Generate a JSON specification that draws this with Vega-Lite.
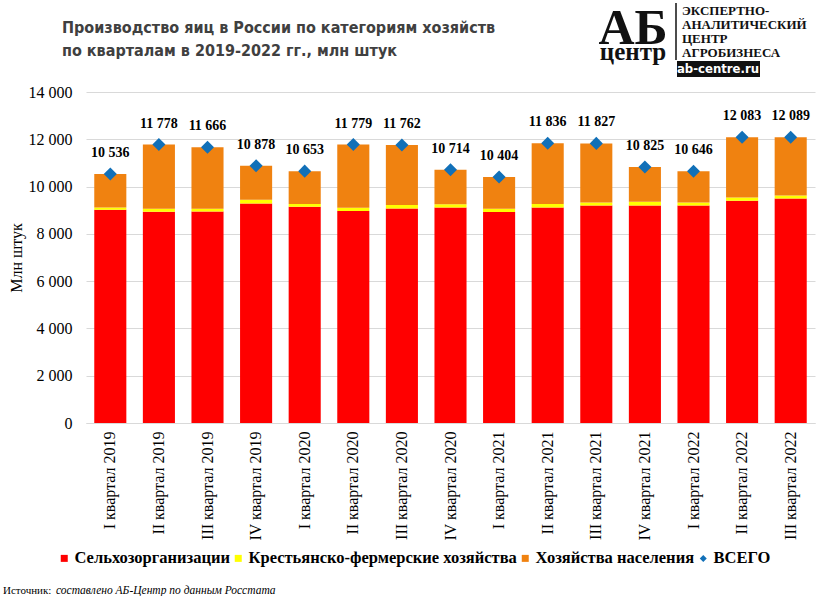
{
  "$schema": "https://vega.github.io/schema/vega-lite/v6.json",
  "width": 729,
  "height": 331,
  "autosize": {"type": "none"},
  "padding": {"left": 86, "top": 92, "right": 4, "bottom": 173},
  "background": "white",
  "config": {
    "locale": {"number": {"decimal": ",", "thousands": " ", "grouping": [3], "currency": ["", ""]}},
    "view": {"stroke": null},
    "font": "Liberation Serif"
  },
  "title": {
    "text": ["Производство  яиц в России по категориям хозяйств", "по кварталам  в 2019-2022 гг., млн штук"],
    "anchor": "start",
    "frame": "group",
    "font": "Liberation Sans Narrow, DejaVu Sans Condensed, sans-serif",
    "fontSize": 16,
    "fontWeight": "bold",
    "color": "#404040",
    "lineHeight": 23,
    "dx": -24,
    "offset": -57
  },
  "datasets": {
    "eggs": [
      {"q": "I квартал 2019", "Сельхозорганизации": 9019, "Крестьянско-фермерские хозяйства": 95, "Хозяйства населения": 1422, "ВСЕГО": 10536},
      {"q": "II квартал 2019", "Сельхозорганизации": 8935, "Крестьянско-фермерские хозяйства": 126, "Хозяйства населения": 2717, "ВСЕГО": 11778},
      {"q": "III квартал 2019", "Сельхозорганизации": 8947, "Крестьянско-фермерские хозяйства": 114, "Хозяйства населения": 2605, "ВСЕГО": 11666},
      {"q": "IV квартал 2019", "Сельхозорганизации": 9285, "Крестьянско-фермерские хозяйства": 157, "Хозяйства населения": 1436, "ВСЕГО": 10878},
      {"q": "I квартал 2020", "Сельхозорганизации": 9146, "Крестьянско-фермерские хозяйства": 114, "Хозяйства населения": 1393, "ВСЕГО": 10653},
      {"q": "II квартал 2020", "Сельхозорганизации": 8964, "Крестьянско-фермерские хозяйства": 140, "Хозяйства населения": 2675, "ВСЕГО": 11779},
      {"q": "III квартал 2020", "Сельхозорганизации": 9074, "Крестьянско-фермерские хозяйства": 144, "Хозяйства населения": 2544, "ВСЕГО": 11762},
      {"q": "IV квартал 2020", "Сельхозорганизации": 9116, "Крестьянско-фермерские хозяйства": 136, "Хозяйства населения": 1462, "ВСЕГО": 10714},
      {"q": "I квартал 2021", "Сельхозорганизации": 8922, "Крестьянско-фермерские хозяйства": 139, "Хозяйства населения": 1343, "ВСЕГО": 10404},
      {"q": "II квартал 2021", "Сельхозорганизации": 9116, "Крестьянско-фермерские хозяйства": 144, "Хозяйства населения": 2576, "ВСЕГО": 11836},
      {"q": "III квартал 2021", "Сельхозорганизации": 9201, "Крестьянско-фермерские хозяйства": 127, "Хозяйства населения": 2499, "ВСЕГО": 11827},
      {"q": "IV квартал 2021", "Сельхозорганизации": 9201, "Крестьянско-фермерские хозяйства": 156, "Хозяйства населения": 1468, "ВСЕГО": 10825},
      {"q": "I квартал 2022", "Сельхозорганизации": 9201, "Крестьянско-фермерские хозяйства": 127, "Хозяйства населения": 1318, "ВСЕГО": 10646},
      {"q": "II квартал 2022", "Сельхозорганизации": 9400, "Крестьянско-фермерские хозяйства": 139, "Хозяйства населения": 2544, "ВСЕГО": 12083},
      {"q": "III квартал 2022", "Сельхозорганизации": 9497, "Крестьянско-фермерские хозяйства": 127, "Хозяйства населения": 2465, "ВСЕГО": 12089}
    ]
  },
  "layer": [
    {
      "data": {"name": "eggs"},
      "transform": [
        {"fold": ["Сельхозорганизации", "Крестьянско-фермерские хозяйства", "Хозяйства населения"], "as": ["cat", "val"]},
        {"calculate": "indexof(['Сельхозорганизации', 'Крестьянско-фермерские хозяйства', 'Хозяйства населения'], datum.cat)", "as": "ord"}
      ],
      "mark": {"type": "bar"},
      "encoding": {
        "x": {
          "field": "q", "type": "nominal", "sort": null,
          "scale": {"paddingInner": 0.34, "paddingOuter": 0.17},
          "axis": {"title": null, "labelAngle": -90, "labelFont": "Liberation Serif", "labelFontSize": 16, "labelColor": "#000000", "domainColor": "#d9d9d9", "ticks": false, "labelPadding": 8}
        },
        "y": {
          "field": "val", "type": "quantitative", "stack": "zero",
          "scale": {"domain": [0, 14000], "nice": false},
          "axis": {"title": "Млн штук", "titleFont": "Liberation Serif", "titleFontSize": 16, "titleFontWeight": "normal", "titleColor": "#000000", "titleX": -62, "labelFont": "Liberation Serif", "labelFontSize": 16, "labelColor": "#000000", "domain": false, "ticks": false, "gridColor": "#d9d9d9", "labelPadding": 14, "values": [0, 2000, 4000, 6000, 8000, 10000, 12000, 14000], "format": ",d"}
        },
        "color": {
          "field": "cat", "type": "nominal",
          "scale": {"domain": ["Сельхозорганизации", "Крестьянско-фермерские хозяйства", "Хозяйства населения", "ВСЕГО"], "range": ["#FF0000", "#FFFF00", "#F08210", "#1170B8"]},
          "legend": {
            "orient": "none", "direction": "horizontal", "legendX": -30, "legendY": 458,
            "title": null, "labelFont": "Liberation Serif", "labelFontSize": 16.5, "labelFontWeight": "bold", "labelColor": "#000000", "labelLimit": 0,
            "symbolSize": 49, "symbolType": "square", "symbolStrokeWidth": 0, "columnPadding": -2, "labelOffset": 2,
            "encode": {"symbols": {"update": {"shape": {"signal": "datum.value === 'ВСЕГО' ? 'diamond' : 'square'"}}}}
          }
        },
        "order": {"field": "ord", "type": "quantitative", "sort": "ascending"}
      }
    },
    {
      "data": {"name": "eggs"},
      "mark": {"type": "point", "shape": "diamond", "filled": true, "size": 170, "opacity": 1},
      "encoding": {
        "x": {"field": "q", "type": "nominal", "sort": null},
        "y": {"field": "ВСЕГО", "type": "quantitative"},
        "color": {"datum": "ВСЕГО"}
      }
    },
    {
      "data": {"name": "eggs"},
      "mark": {"type": "text", "dy": -21, "font": "Liberation Serif", "fontSize": 14, "fontWeight": "bold", "color": "#000000"},
      "encoding": {
        "x": {"field": "q", "type": "nominal", "sort": null},
        "y": {"field": "ВСЕГО", "type": "quantitative"},
        "text": {"field": "ВСЕГО", "type": "quantitative", "format": ",d"}
      }
    },
    {
      "data": {"values": [{}]},
      "mark": {"type": "text", "text": "АБ", "font": "Liberation Serif", "fontSize": 50, "fontWeight": "bold", "color": "#111111", "align": "center", "baseline": "alphabetic"},
      "encoding": {"x": {"value": 547}, "y": {"value": -48}}
    },
    {
      "data": {"values": [{}]},
      "mark": {"type": "text", "text": "центр", "font": "Liberation Serif", "fontSize": 25, "fontWeight": "bold", "color": "#111111", "align": "center", "baseline": "alphabetic"},
      "encoding": {"x": {"value": 547}, "y": {"value": -32}}
    },
    {
      "data": {"values": [{}]},
      "mark": {"type": "rule", "color": "#111111", "strokeWidth": 1.5},
      "encoding": {"x": {"value": 590}, "y": {"value": -89}, "y2": {"value": -32}}
    },
    {
      "data": {"values": [{}]},
      "mark": {"type": "text", "text": ["ЭКСПЕРТНО-", "АНАЛИТИЧЕСКИЙ", "ЦЕНТР", "АГРОБИЗНЕСА"], "font": "Liberation Serif", "fontSize": 13, "fontWeight": "bold", "color": "#111111", "align": "left", "baseline": "top", "lineHeight": 14},
      "encoding": {"x": {"value": 596}, "y": {"value": -87}}
    },
    {
      "data": {"values": [{}]},
      "mark": {"type": "rect", "color": "#111111"},
      "encoding": {"x": {"value": 591}, "x2": {"value": 674}, "y": {"value": -31}, "y2": {"value": -15}}
    },
    {
      "data": {"values": [{}]},
      "mark": {"type": "text", "text": "ab-centre.ru", "font": "Liberation Sans Narrow, DejaVu Sans Condensed, sans-serif", "fontSize": 13, "fontWeight": "bold", "color": "#ffffff", "align": "center", "baseline": "middle"},
      "encoding": {"x": {"value": 632}, "y": {"value": -23}}
    },
    {
      "data": {"values": [{}]},
      "mark": {"type": "text", "text": "Источник:", "font": "Liberation Serif", "fontSize": 11, "color": "#000000", "align": "left", "baseline": "alphabetic"},
      "encoding": {"x": {"value": -83}, "y": {"value": 502}}
    },
    {
      "data": {"values": [{}]},
      "mark": {"type": "text", "text": "составлено АБ-Центр  по данным  Росстата", "font": "Liberation Serif", "fontSize": 11.5, "fontStyle": "italic", "color": "#000000", "align": "left", "baseline": "alphabetic"},
      "encoding": {"x": {"value": -30}, "y": {"value": 502}}
    }
  ]
}
